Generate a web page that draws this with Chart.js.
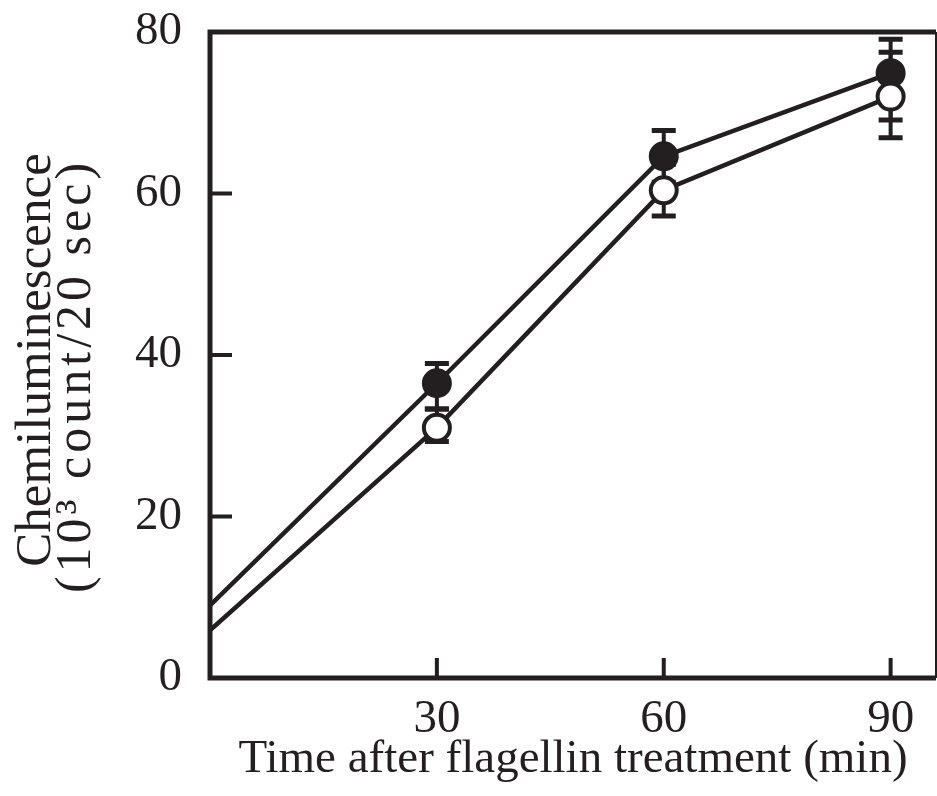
<!DOCTYPE html>
<html>
<head>
<meta charset="utf-8">
<script src="https://cdn.jsdelivr.net/npm/chart.js@4.4.1/dist/chart.umd.min.js"></script>
<style>
  html, body { margin: 0; padding: 0; background: #fff; }
  canvas { display: block; }
</style>
</head>
<body>
<canvas id="chart" width="937" height="796"></canvas>
<script>
// time points (min)
var times = [0, 30, 60, 90];

// filled circles
var filledMean = [9.0, 36.5, 64.6, 74.9];
var filledErrUp = [0, 2.45, 3.2, 4.2];
var filledErrDown = [0, 3.2, 3.2, 5.8];

// open circles
var openMean = [5.9, 31.0, 60.4, 72.0];
var openErrUp = [0, 2.3, 3.2, 5.5];
var openErrDown = [0, 1.7, 3.2, 5.1];

var yTicks = [0, 20, 40, 60, 80];
var xTicks = [30, 60, 90];

var yTitle = ['Chemiluminescence', '(10\u00b3 count/20 sec)'];
var xTitle = 'Time after flagellin treatment (min)';

var ink = '#231f20';
var serif = "'Liberation Serif', 'DejaVu Serif', serif";

function toPoints(xs, ys, up, down) {
    var out = [];
    for (var i = 0; i < xs.length; ++i)
        out.push({ x: xs[i], y: ys[i], up: up[i], down: down[i] });
    return out;
}

// error bars go under the markers
var errorBars = {
    id: 'errorBars',
    beforeDatasetsDraw: function (chart) {
        var ctx = chart.ctx;
        var ys = chart.scales.y;
        ctx.save();
        ctx.strokeStyle = ink;
        chart.data.datasets.forEach(function (ds, di) {
            var meta = chart.getDatasetMeta(di);
            ds.data.forEach(function (p, k) {
                if (!p.up && !p.down) return;
                var px = meta.data[k].x;
                var yTop = ys.getPixelForValue(p.y + p.up);
                var yBot = ys.getPixelForValue(p.y - p.down);
                ctx.lineWidth = 4;
                ctx.beginPath();
                ctx.moveTo(px, yTop);
                ctx.lineTo(px, yBot);
                ctx.stroke();
                ctx.lineWidth = 5;
                ctx.beginPath();
                ctx.moveTo(px - 12, yTop);
                ctx.lineTo(px + 12, yTop);
                ctx.moveTo(px - 12, yBot);
                ctx.lineTo(px + 12, yBot);
                ctx.stroke();
            });
        });
        ctx.restore();
    }
};

// box, inward ticks and the two-line y title
var frame = {
    id: 'frame',
    afterDraw: function (chart) {
        var ctx = chart.ctx;
        var a = chart.chartArea;
        var xs = chart.scales.x, ys = chart.scales.y;
        ctx.save();
        ctx.strokeStyle = ink;
        ctx.lineCap = 'butt';
        ctx.lineWidth = 5;
        ctx.beginPath();
        ctx.moveTo(a.right, a.top);
        ctx.lineTo(a.left, a.top);
        ctx.lineTo(a.left, a.bottom);
        ctx.lineTo(a.right, a.bottom);
        ctx.stroke();
        ctx.lineWidth = 2;
        ctx.beginPath();
        ctx.moveTo(a.right, a.top);
        ctx.lineTo(a.right, a.bottom);
        ctx.stroke();
        ctx.lineWidth = 4;
        ctx.beginPath();
        yTicks.forEach(function (v) {
            var py = ys.getPixelForValue(v);
            ctx.moveTo(a.left, py);
            ctx.lineTo(a.left + 22, py);
        });
        xTicks.forEach(function (v) {
            var px = xs.getPixelForValue(v);
            ctx.moveTo(px, a.bottom);
            ctx.lineTo(px, a.bottom - 20);
        });
        ctx.stroke();

        // y title, rotated
        var mid = (a.top + a.bottom) / 2;
        ctx.fillStyle = ink;
        ctx.textAlign = 'center';
        ctx.textBaseline = 'alphabetic';
        ctx.translate(0, mid);
        ctx.rotate(-Math.PI / 2);
        ctx.font = '51px ' + serif;
        ctx.fillText(yTitle[0], -5, 50);
        ctx.font = '50px ' + serif;
        ctx.letterSpacing = '4px';
        ctx.fillText(yTitle[1], -21, 90);
        ctx.restore();
    }
};

new Chart(document.getElementById('chart'), {
    type: 'line',
    data: {
        datasets: [{
            label: 'open',
            data: toPoints(times, openMean, openErrUp, openErrDown),
            borderColor: ink,
            borderWidth: 4.5,
            pointRadius: [0, 13, 13, 13],
            pointBorderWidth: 4,
            pointBackgroundColor: '#fff',
            pointBorderColor: ink,
            tension: 0
        }, {
            label: 'filled',
            data: toPoints(times, filledMean, filledErrUp, filledErrDown),
            borderColor: ink,
            borderWidth: 4.5,
            pointRadius: [0, 14, 14, 14],
            pointBorderWidth: 2,
            pointBackgroundColor: ink,
            pointBorderColor: ink,
            tension: 0
        }]
    },
    options: {
        responsive: false,
        animation: false,
        layout: { autoPadding: false, padding: { top: 32, right: 1, left: 0, bottom: 0 } },
        plugins: { legend: { display: false }, tooltip: { enabled: false } },
        scales: {
            x: {
                type: 'linear',
                min: 0,
                max: 96,
                afterBuildTicks: function (s) {
                    s.ticks = xTicks.map(function (v) { return { value: v }; });
                },
                afterFit: function (s) {
                    s.height = 118;
                    s.paddingLeft = 0; s.paddingRight = 0;
                },
                grid: { display: false, drawTicks: false },
                border: { display: false },
                ticks: {
                    color: ink,
                    font: { family: serif, size: 47 },
                    padding: 13,
                    maxRotation: 0
                },
                title: {
                    display: true,
                    text: xTitle,
                    color: ink,
                    font: { family: serif, size: 47, lineHeight: 1.2 },
                    padding: { top: 0, bottom: 8 }
                }
            },
            y: {
                min: 0,
                max: 80,
                afterBuildTicks: function (s) {
                    s.ticks = yTicks.map(function (v) { return { value: v }; });
                },
                afterFit: function (s) {
                    s.width = 210;
                    s.paddingTop = 0; s.paddingBottom = 0;
                },
                grid: { display: false, drawTicks: false },
                border: { display: false },
                ticks: {
                    color: ink,
                    font: { family: serif, size: 47 },
                    padding: 28
                }
            }
        }
    },
    plugins: [errorBars, frame]
});
</script>
</body>
</html>
